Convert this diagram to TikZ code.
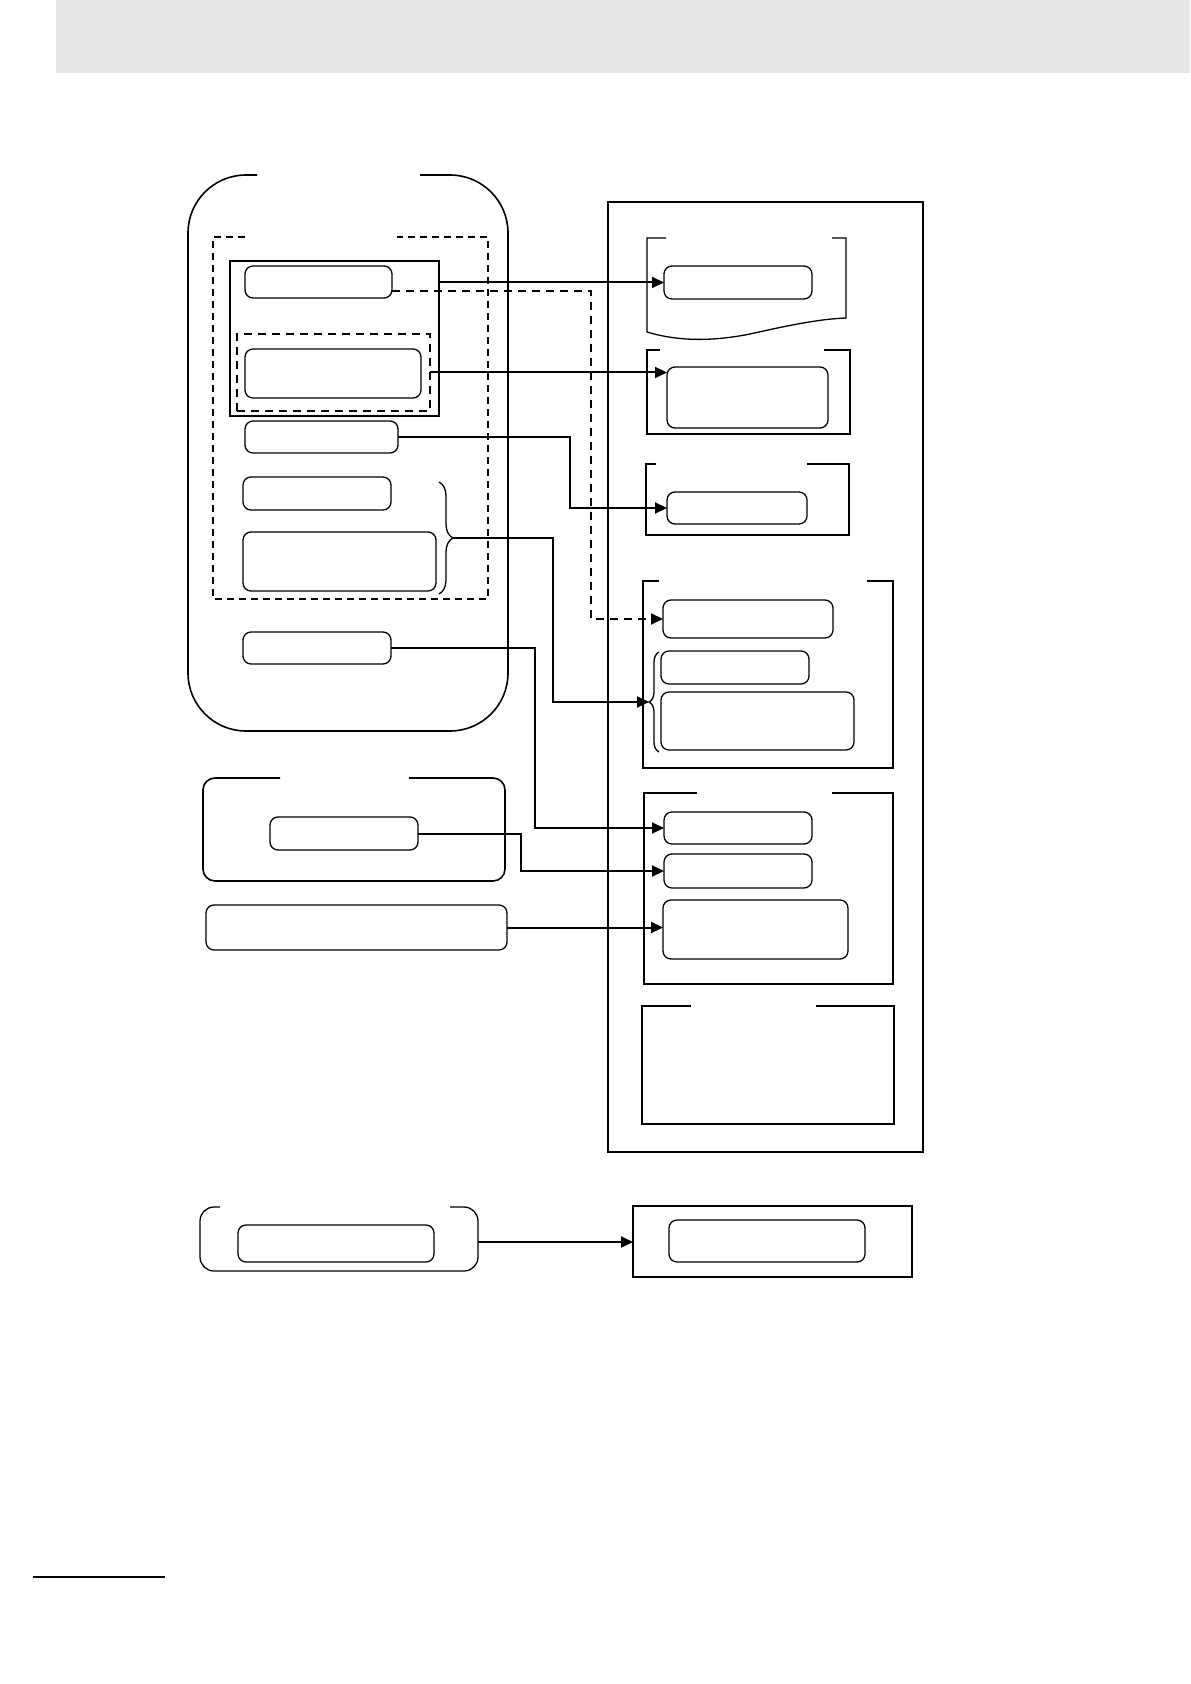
\documentclass[tikz,border=0pt]{standalone}
\usetikzlibrary{arrows.meta,fit,decorations.pathreplacing}

\tikzset{
  box/.style={draw, rounded corners=4pt, inner sep=0pt, outer sep=0pt, line width=0.65pt},
  frame/.style={line width=0.65pt},
  link/.style={line width=1pt, -{Triangle[length=6pt,width=5.5pt]}},
  dashlink/.style={dash pattern=on 4pt off 3pt},
}

\begin{document}
\begin{tikzpicture}[x=0.5pt,y=-0.5pt]
        \useasboundingbox (0,0) rectangle (1190,1684);
        \fill[black!10] (56,0) rectangle (1190,73);
        % left side groups
        \draw[line width=0.8pt, rounded corners=29pt] (257,175) -- (188,175) -- (188,731) -- (508,731) -- (508,175) -- (420,175);
        \draw[frame, dash pattern=on 3.5pt off 2.5pt] (245,237) -- (213,237) -- (213,599) -- (488,599) -- (488,237) -- (397,237);
        \node[draw, line width=1pt, inner sep=0pt, outer sep=0pt, fit={(230,261) (439,416)}] (sel) {};
        \node[draw, dashlink, line width=0.8pt, inner sep=0pt, outer sep=0pt, fit={(237,334) (430,411)}] (Bd) {};
        \draw[line width=0.8pt, rounded corners=6pt] (280,778) -- (203,778) -- (203,881) -- (505,881) -- (505,778) -- (409,778);
        \draw[frame, rounded corners=7pt] (220,1207) -- (200,1207) -- (200,1271) -- (478,1271) -- (478,1207) -- (450,1207);
        \coordinate (blr) at (478,1242);
        % right side groups
        \node[draw, line width=1.2pt, inner sep=0pt, outer sep=0pt, fit={(608,202) (923,1152)}] (panel) {};
        \draw[frame] (666,238) -- (647,238) -- (647,332) .. controls (680,342) and (715,341) .. (750,334) .. controls (790,325) and (820,319) .. (846,318) -- (846,238) -- (832,238);
        \draw[frame] (660,350) -- (647,350) -- (647,434) -- (850,434) -- (850,350) -- (824,350);
        \draw[frame] (656,464) -- (646,464) -- (646,535) -- (849,535) -- (849,464) -- (807,464);
        \draw[frame] (659,581) -- (643,581) -- (643,768) -- (893,768) -- (893,581) -- (867,581);
        \draw[frame] (697,793) -- (644,793) -- (644,984) -- (893,984) -- (893,793) -- (832,793);
        \draw[frame] (691,1006) -- (642,1006) -- (642,1124) -- (894,1124) -- (894,1006) -- (816,1006);
        \node[draw, line width=1.2pt, inner sep=0pt, outer sep=0pt, fit={(633,1206) (912,1277)}] (BR) {};
        % boxes
        \foreach \n/\xa/\ya/\xb/\yb in {A/245/266/392/298, B/245/349/421/398, C/245/421/398/453,
                D/243/477/391/510, E/243/532/436/591, F/243/632/391/664, H/270/817/418/850,
                I/206/905/507/950, R1a/664/266/812/299, R2a/667/367/828/428, R3a/667/492/807/524,
                R4a/663/600/833/638, R4b/661/651/809/684, R4c/661/692/854/750, R5a/664/812/812/844,
                R5b/664/854/812/888, R5c/663/900/848/959, BLa/238/1225/434/1262, BRa/669/1220/865/1262}
        \node[box, fit={(\xa,\ya) (\xb,\yb)}] (\n) {};
        % braces
        \draw[frame, decorate, decoration={brace, amplitude=7pt}] (439,482) -- (439,594);
        \coordinate (braceL) at (453,538);
        \draw[frame, decorate, decoration={brace, amplitude=5pt}] (659,752) -- (659,652);
        \coordinate (braceR) at (649,702);
        % links
        \draw[link] (sel.east |- R1a.west) -- (R1a.west);
        \draw[link, dashlink] ([yshift=-4.5pt]A.east) -- ++(199,0) |- (R4a.west);
        \draw[link] (Bd.east) -- (Bd.east -| R2a.west);
        \draw[link] (C.east) -- ++(172,0) |- (R3a.west);
        \draw[link] (braceL) -- ++(100,0) |- (braceR);
        \draw[link] (F.east) -- ++(144,0) |- (R5a.west);
        \draw[link] (H.east) -- ++(103,0) |- (R5b.west);
        \draw[link] (I.east) -- (I.east -| R5c.west);
        \draw[link] (blr) -- (blr -| BR.west);
        \draw[line width=1.3pt] (33,1577) -- (165,1577);
\end{tikzpicture}
\end{document}
